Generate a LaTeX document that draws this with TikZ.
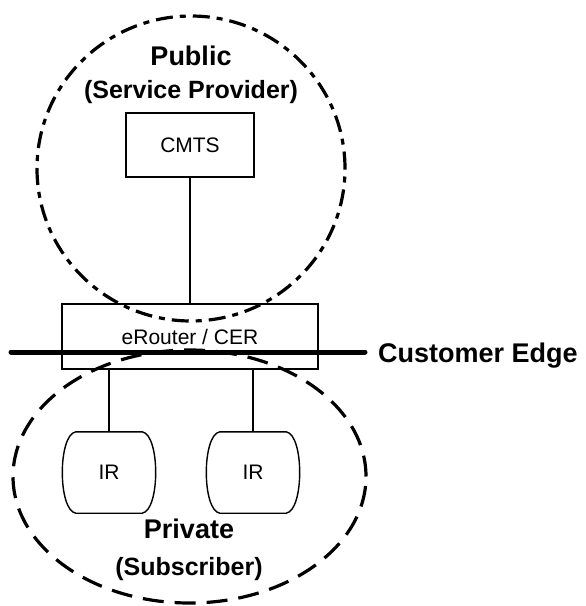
\documentclass[tikz,border=0pt]{standalone}
\usepackage{fontspec}
\setmainfont{Liberation Sans}

\begin{document}
\begin{tikzpicture}[x=1pt,y=-1pt,
  box/.style={draw, line width=1.4pt, inner sep=0pt, font=\fontsize{21}{25}\selectfont},
  irnode/.style={inner sep=0pt, minimum width=94pt, minimum height=81pt, font=\fontsize{21}{25}\selectfont},
  wire/.style={line width=1.4pt},
  zone/.style={line width=3.2pt},
  title/.style={inner sep=0pt, font=\bfseries\fontsize{27}{32}\selectfont},
  subtitle/.style={inner sep=0pt, font=\bfseries\fontsize{25}{30}\selectfont}]
\useasboundingbox (0,0) rectangle (586,606);

% public side
\draw[zone, dash pattern=on 17pt off 7pt on 6pt off 7pt] (191,168.5) ellipse [x radius=154pt, y radius=152.5pt];
\node[title, anchor=base] (pub) at (191,65) {Public};
\node[subtitle, anchor=base] (pubsub) at (191,98) {(Service Provider)};
\node[box, minimum width=128pt, minimum height=64pt] (cmts) at (190,145) {CMTS};

% private side
\draw[zone, dash pattern=on 21pt off 11pt] (189.5,476.5) ellipse [x radius=176.5pt, y radius=126.5pt];
\node[title, anchor=base] (priv) at (189,538) {Private};
\node[subtitle, anchor=base] (privsub) at (189,575) {(Subscriber)};

% router on the edge
\node[box, minimum width=256pt, minimum height=65pt] (er) at (190,336.5) {eRouter / CER};
\draw[wire] (cmts.south) -- (er.north);

\foreach \n/\x in {irA/109, irB/253} {
  \node[irnode] (\n) at (\x,472.5) {IR};
  \draw[wire] ([xshift=14pt]\n.north west) -- ([xshift=-14pt]\n.north east)
    .. controls ([xshift=4pt,yshift=-3pt]\n.north east) and ([xshift=4pt,yshift=3pt]\n.south east) .. ([xshift=-14pt]\n.south east)
    -- ([xshift=14pt]\n.south west)
    .. controls ([xshift=-4pt,yshift=3pt]\n.south west) and ([xshift=-4pt,yshift=-3pt]\n.north west) .. cycle;
  \draw[wire] (\n.north) -- (\n.north |- er.south);
}

% customer edge
\coordinate (edgeL) at (11,352);
\coordinate (edgeR) at (365,352);
\draw[line width=5pt, line cap=round] (edgeL) -- (edgeR);
\node[title, anchor=base west] (cedge) at (378,362) {Customer Edge};
\end{tikzpicture}
\end{document}
